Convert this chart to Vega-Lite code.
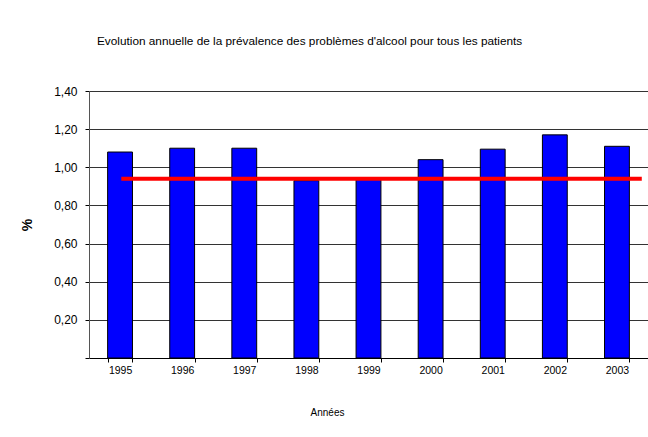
{
  "$schema": "https://vega.github.io/schema/vega-lite/v6.json",
  "autosize": "none",
  "width": 559,
  "height": 267,
  "padding": {"left": 89, "top": 91, "right": 0, "bottom": 79},
  "background": "white",
  "config": {
    "font": "Liberation Sans",
    "view": {"stroke": null},
    "axis": {"labelFont": "Liberation Sans", "titleFont": "Liberation Sans"}
  },
  "title": {
    "text": "Evolution annuelle de la prévalence des problèmes d'alcool pour tous les patients",
    "anchor": "start",
    "frame": "group",
    "dx": 8,
    "offset": 37,
    "fontSize": 11.8,
    "fontWeight": "normal",
    "color": "black",
    "font": "Liberation Sans"
  },
  "datasets": {
    "bars": [
      {"annee": "1995", "valeur": 1.08},
      {"annee": "1996", "valeur": 1.10},
      {"annee": "1997", "valeur": 1.10},
      {"annee": "1998", "valeur": 0.93},
      {"annee": "1999", "valeur": 0.94},
      {"annee": "2000", "valeur": 1.04},
      {"annee": "2001", "valeur": 1.095},
      {"annee": "2002", "valeur": 1.17},
      {"annee": "2003", "valeur": 1.11}
    ],
    "moyenne": [
      {"debut": "1995", "fin": "2003", "valeur": 0.94}
    ]
  },
  "layer": [
    {
      "data": {"name": "bars"},
      "mark": {"type": "bar", "color": "#0000FF", "stroke": "black", "strokeWidth": 1},
      "encoding": {
        "x": {
          "field": "annee",
          "type": "ordinal",
          "scale": {"paddingInner": 0.6, "paddingOuter": 0.3},
          "axis": {
            "title": "Années",
            "titleFontSize": 10,
            "titleFontWeight": "normal",
            "titleColor": "black",
            "titlePadding": 32,
            "titleX": 238,
            "labelAngle": 0,
            "labelFontSize": 10.5,
            "labelColor": "black",
            "labelPadding": 3,
            "labelDx": -5,
            "tickBand": "extent",
            "tickSize": 4,
            "tickColor": "black",
            "domainColor": "black",
            "grid": false
          }
        },
        "y": {
          "field": "valeur",
          "type": "quantitative",
          "scale": {"domain": [0, 1.4], "nice": false},
          "axis": {
            "title": "%",
            "titleFontSize": 14,
            "titleFontWeight": "bold",
            "titleColor": "black",
            "titlePadding": 19,
            "values": [0, 0.2, 0.4, 0.6, 0.8, 1.0, 1.2, 1.4],
            "tickCount": 8,
            "labelOverlap": false,
            "labelFlush": false,
            "labelExpr": "datum.value == 0 ? '' : replace(format(datum.value, '.2f'), '.', ',')",
            "labelFontSize": 12,
            "labelColor": "black",
            "labelPadding": 8,
            "tickSize": 4,
            "tickColor": "black",
            "domainColor": "#555555",
            "grid": true,
            "gridColor": "#333333",
            "gridWidth": 1
          }
        }
      }
    },
    {
      "data": {"name": "moyenne"},
      "mark": {"type": "rule", "color": "#FF0000", "strokeWidth": 4},
      "encoding": {
        "x": {"field": "debut", "type": "ordinal", "bandPosition": 0.55},
        "x2": {"field": "fin", "bandPosition": 1.5},
        "y": {"field": "valeur", "type": "quantitative"}
      }
    }
  ]
}
